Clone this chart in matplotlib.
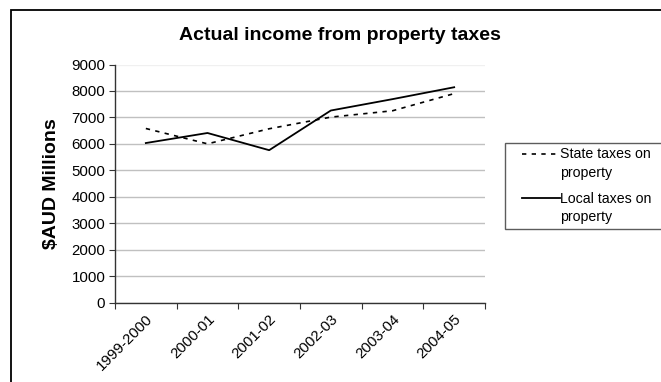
import matplotlib
matplotlib.use("Agg")
import matplotlib.pyplot as plt
import numpy as np
from matplotlib.legend_handler import HandlerLine2D

plt.rcParams["font.family"] = ["Liberation Sans", "DejaVu Sans"]

years = ["1999-2000", "2000-01", "2001-02", "2002-03", "2003-04", "2004-05"]
state_tax = [6580, 6000, 6570, 7010, 7250, 7900]
local_tax = [6030, 6410, 5760, 7260, 7690, 8140]
y_ticks = list(range(0, 10000, 1000))


class TopLineHandler(HandlerLine2D):
    """Legend line aligned with the first text row, indented from the frame."""
    def create_artists(self, legend, orig_handle, xdescent, ydescent, width, height, fontsize, trans):
        dx, dy = 9.0, 15.0
        return super().create_artists(legend, orig_handle, xdescent - dx, ydescent - dy,
                                      width - dx, height, fontsize, trans)


W, H = 661, 382
fig = plt.figure(figsize=(W / 100, H / 100), dpi=100)
ax = fig.add_axes([115 / W, 1 - 302.5 / H, 370 / W, 238 / H])

x = np.arange(len(years))
ax.plot(x, state_tax, color="black", lw=1.2, linestyle=(0, (2.6, 3.2)), label="State taxes on\nproperty")
ax.plot(x, local_tax, color="black", lw=1.3, label="Local taxes on\nproperty")

ax.set_xlim(-0.5, len(years) - 0.5)
ax.set_ylim(0, 9000)
ax.set_yticks(y_ticks)
ax.set_yticklabels([str(v) for v in y_ticks], fontsize=10.8)
ax.yaxis.grid(True, color="#c0c0c0", lw=1)
ax.get_ygridlines()[-1].set_color("#f0f0f0")
ax.set_axisbelow(True)

# category boundaries as ticks, labels at centres
ax.set_xticks(np.arange(-0.5, len(years)))
ax.set_xticklabels([])
ax.set_xticks(x, minor=True)
ax.set_xticklabels(years, minor=True, rotation=45, ha="right", va="top",
                   rotation_mode="anchor", fontsize=10.8)
ax.tick_params(axis="x", which="minor", length=0, pad=7)
ax.tick_params(axis="x", which="major", length=4, direction="out", color="#333333")
ax.tick_params(axis="y", length=4, direction="out", color="#333333", pad=3)

for s in ["top", "right"]:
    ax.spines[s].set_visible(False)
for s in ["left", "bottom"]:
    ax.spines[s].set_color("#333333")
    ax.spines[s].set_linewidth(1)

ax.set_ylabel("$AUD Millions", fontsize=14, fontweight="bold", labelpad=8)
fig.text(340 / W, 1 - 35 / H, "Actual income from property taxes", ha="center", va="center",
         fontsize=14, fontweight="bold")

handles, labels = ax.get_legend_handles_labels()
leg = fig.legend(handles, labels, loc="upper left",
                 bbox_to_anchor=(505 / W, 1 - 227 / H, 160 / W, 84 / H),
                 mode="expand", fontsize=10.2, frameon=True, fancybox=False,
                 handlelength=3.6, handletextpad=0.0, borderpad=0.3, labelspacing=0.8,
                 borderaxespad=0, handler_map={h: TopLineHandler() for h in handles})
for t in leg.get_texts():
    t.set_linespacing(1.45)
leg.get_frame().set_edgecolor("#333333")
leg.get_frame().set_linewidth(1)

# outer chart border
fig.patches.append(plt.Rectangle((11 / W, -0.1), 1.0, 1.1 - 10 / H, transform=fig.transFigure,
                                 fill=False, edgecolor="black", lw=1.3))

fig.savefig("out.png", dpi=100)
